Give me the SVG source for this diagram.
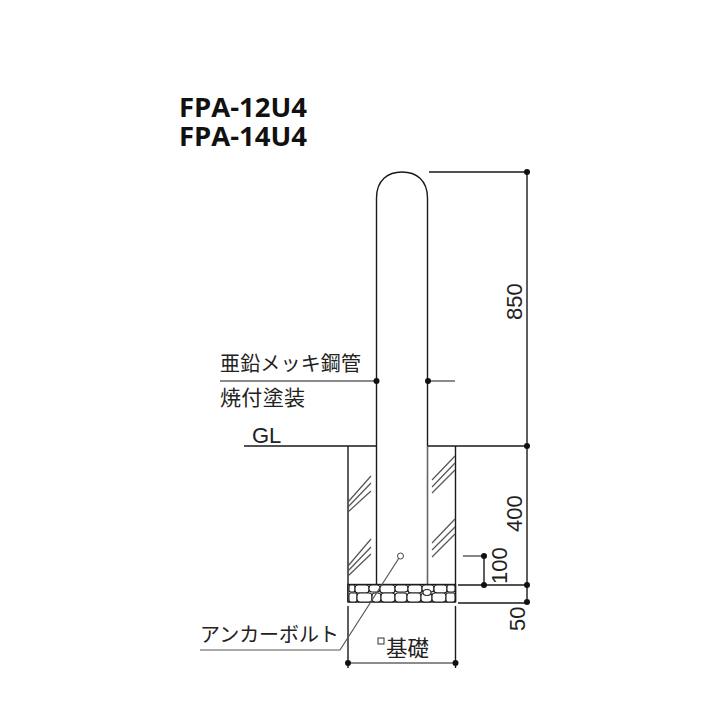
<svg xmlns="http://www.w3.org/2000/svg" width="720" height="720" viewBox="0 0 720 720">
<style>
.l{fill:none;stroke:#1a1a1a;stroke-width:1.4}
.g{fill:none;stroke:#666;stroke-width:1.6}
.h{fill:none;stroke:#555;stroke-width:1.2}
.r{fill:#fff;stroke:#222;stroke-width:1.1}
.t{font-family:"Noto Sans CJK JP","Liberation Sans",sans-serif;font-size:20px;fill:#222}
.n{font-family:"Liberation Sans",sans-serif;font-size:22px;fill:#222}
.b{font-family:"Open Sans","Liberation Sans",sans-serif;font-size:27px;font-weight:700;fill:#111}
.d{fill:#111}
</style>
<rect width="720" height="720" fill="#fff"/>
<g id="title"><text class="b" x="179" y="117" textLength="128" lengthAdjust="spacingAndGlyphs">FPA-12U4</text><text class="b" x="179" y="146" textLength="128" lengthAdjust="spacingAndGlyphs">FPA-14U4</text></g>
<g id="pole">
<path class="l" d="M376.500 446V198C376.500 180 388 172 402 172C416 172 427.500 180 427.500 198V446"/>
<path class="g" d="M427.500 446V584"/>
<path class="l" d="M376.500 446V584"/>
</g>
<g id="foundation">
<path class="l" d="M348 446V602M455.500 446V602"/>
<path class="h" d="M348 502L371 476M348 507L371 483M348 512L371 491M348 566L371 539M348 571L371 547M348 576L371 554"/>
<path class="h" d="M432 480L455 456M432 487L455 463M432 493L455 470M432 543L455 519M432 550L455 527M432 557L455 534"/>
<g id="gravel">
<rect x="348" y="584.500" width="107.500" height="17.500" fill="#fff" stroke="#1a1a1a" stroke-width="1.4"/>
<rect class="r" x="349" y="585" width="6" height="7" rx="2"/><rect class="r" x="355" y="585" width="14" height="8" rx="3"/><rect class="r" x="369" y="585" width="11" height="7" rx="3"/><rect class="r" x="380" y="585" width="15" height="8" rx="3"/><rect class="r" x="395" y="585" width="13" height="7" rx="3"/><rect class="r" x="408" y="585" width="14" height="8" rx="3"/><rect class="r" x="422" y="585" width="12" height="7" rx="3"/><rect class="r" x="434" y="585" width="13" height="8" rx="3"/><rect class="r" x="447" y="585" width="8" height="7" rx="2"/>
<rect class="r" x="349" y="593" width="8" height="9" rx="2"/><rect class="r" x="357" y="593" width="15" height="9" rx="3"/><rect class="r" x="372" y="593" width="9" height="9" rx="3"/><rect class="r" x="381" y="593" width="14" height="9" rx="3"/><rect class="r" x="395" y="593" width="12" height="9" rx="3"/><rect class="r" x="407" y="593" width="14" height="9" rx="3"/><rect class="r" x="421" y="593" width="11" height="9" rx="3"/><rect class="r" x="432" y="593" width="14" height="9" rx="3"/><rect class="r" x="446" y="593" width="9" height="9" rx="2"/>
<ellipse class="r" cx="427" cy="592.500" rx="4" ry="3"/></g>
</g>
<g id="connectors">
<path class="l" d="M429 172H527V602M244 446H376.500M428 446H527"/>
<path class="g" d="M220 381H376M428 381H455"/>
<path class="l" d="M458 585H527M458 603H527"/>
<path class="g" d="M463 556H484"/>
<path class="l" d="M484 556V585"/>
<path class="l" d="M348 606V668M455.500 606V668"/>
<path class="g" d="M348 663H455.500"/>
<path class="h" d="M200 650H340L399 558"/>
<circle cx="400.500" cy="556" r="3" fill="#fff" stroke="#444"/>
<circle class="d" cx="527" cy="172" r="3"/><circle class="d" cx="527" cy="446" r="3"/><circle class="d" cx="527" cy="585" r="3"/><circle class="d" cx="527" cy="602" r="3"/>
<circle class="d" cx="484" cy="556" r="3"/><circle class="d" cx="484" cy="585" r="3"/>
<circle class="d" cx="376.500" cy="381" r="3"/><circle class="d" cx="428" cy="381" r="3"/>
<circle class="d" cx="348" cy="663" r="3"/><circle class="d" cx="455.500" cy="663" r="3"/>
</g>
<g id="labels">
<text class="t" x="220" y="371" textLength="141" style="font-size:20px">亜鉛メッキ鋼管</text>
<text class="t" x="220" y="405" textLength="85" style="font-size:21px">焼付塗装</text>
<text class="n" x="252" y="443">GL</text>
<text class="t" x="200" y="642" textLength="139">アンカーボルト</text>
<rect x="378" y="638" width="6" height="6" fill="none" stroke="#333"/>
<text class="t" x="386" y="656" textLength="43" style="font-size:21.500px">基礎</text>
<text class="n" transform="translate(522 320) rotate(-90)">850</text>
<text class="n" transform="translate(522 532) rotate(-90)">400</text>
<text class="n" transform="translate(507 584) rotate(-90)">100</text>
<text class="n" transform="translate(525 631) rotate(-90)">50</text>
</g>
</svg>
